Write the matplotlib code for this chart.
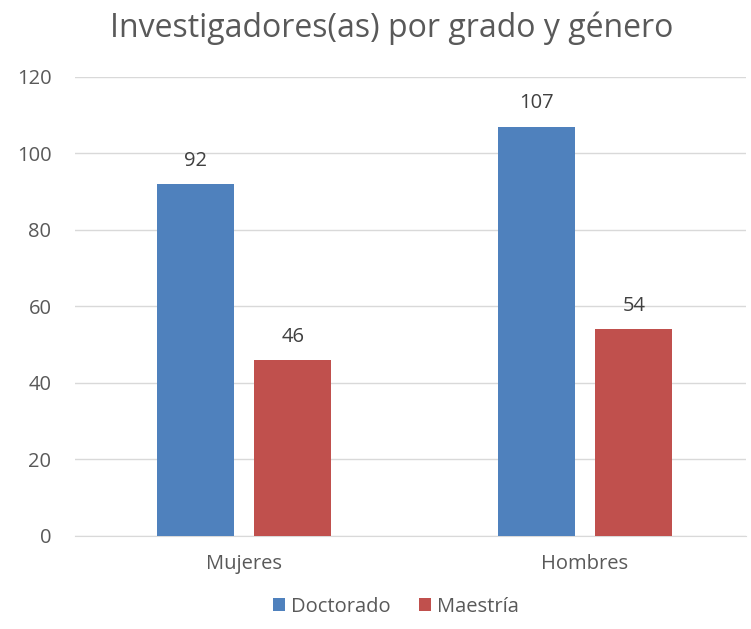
import numpy as np
import matplotlib
matplotlib.use('Agg')
import matplotlib.pyplot as plt

plt.rcParams['font.family'] = ['Open Sans', 'DejaVu Sans']

categorias = ['Mujeres', 'Hombres']
series = ['Doctorado', 'Maestría']
doctorado = [92, 107]
maestria = [46, 54]
colores = ['#4F81BD', '#C0504D']
gris = '#595959'

fig = plt.figure(figsize=(7.51, 6.29), dpi=100)
ax = fig.add_axes([0.0999, 0.1479, 0.893, 0.7297])

x = np.arange(len(categorias))
ancho = 0.226
desp = 0.143
for vals, dx, col, nom in zip([doctorado, maestria], [-desp, desp], colores, series):
    barras = ax.bar(x + dx, vals, ancho, color=col, label=nom, zorder=3)
    for b, v in zip(barras, vals):
        ax.text(b.get_x() + b.get_width() / 2, v + 3.5, str(v), ha='center', va='bottom',
                fontsize=14.5, color='#404040')

ax.set_xlim(-0.4956, 1.471)
ax.set_ylim(0, 120)
ax.set_yticks(range(0, 121, 20))
ax.set_xticks(x)
ax.set_xticklabels(categorias)
ax.tick_params(axis='both', length=0, labelsize=14.5, colors=gris)
ax.tick_params(axis='y', pad=17)
ax.tick_params(axis='x', pad=13)
ax.yaxis.grid(True, color='#D9D9D9', linewidth=1, zorder=0)
for s in ['top', 'right', 'left']:
    ax.spines[s].set_visible(False)
ax.spines['bottom'].set_color('#D9D9D9')

fig.text(0.521, 0.955, 'Investigadores(as) por grado y género', ha='center', va='center',
         fontsize=23, color=gris)
fig.legend(loc='center', bbox_to_anchor=(0.527, 0.035), ncol=2, frameon=False,
           fontsize=14.5, labelcolor=gris, handlelength=0.6, handleheight=0.6,
           handletextpad=0.3, columnspacing=1.4)

fig.savefig('out.png', dpi=100)
